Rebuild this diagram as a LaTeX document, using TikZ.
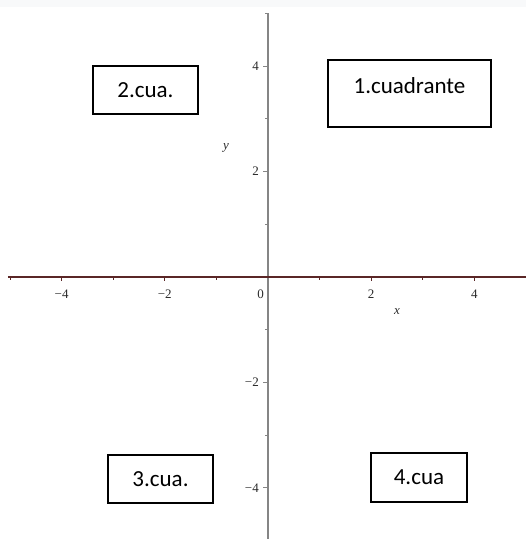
\documentclass[tikz,border=0pt]{standalone}
\usepackage{fontspec}
\setmainfont{Liberation Serif}
\newfontfamily\quadfont{Carlito}
\usetikzlibrary{positioning}
\definecolor{stripgray}{HTML}{F8F9FA}
\definecolor{yaxisgray}{HTML}{858585}
\definecolor{xaxisred}{HTML}{5A2626}
\definecolor{labelgray}{HTML}{2A2A2A}
\tikzset{
  quadbox/.style={
    draw,
    line width=1.2pt,
    inner sep=0pt,
    minimum height=48pt,
    font=\quadfont\fontsize{23}{27}\selectfont
  },
  xtick/.style={draw=xaxisred, line width=1pt},
  ytick/.style={draw=yaxisgray, line width=1pt},
  ticklabel/.style={inner sep=0pt, text=labelgray, font=\fontsize{13}{15}\selectfont},
  axislabel/.style={inner sep=0pt, text=labelgray, font=\itshape\fontsize{13}{15}\selectfont}
}

\begin{document}
\begin{tikzpicture}[x=51.6pt, y=52.7pt]
  \useasboundingbox (-5.194,-4.972) rectangle (5.0,5.256);
  \fill[stripgray] (-5.194,5.123) rectangle (5.0,5.256);

  % axes
  \coordinate (xmin) at (-5.04,0);
  \coordinate (xmax) at (5.0,0);
  \coordinate (ymin) at (0,-4.972);
  \coordinate (ymax) at (0,5.0);
  \draw[yaxisgray, line width=2pt] (ymin) -- (ymax);
  \draw[xaxisred, line width=1.2pt] (xmin) -- (xmax);

  % ticks and numbers
  \foreach \i in {-5,-3,-1,1,3}
    \draw[xtick] (\i,0) -- ++(0,-3pt);
  \foreach \i/\t/\n in {-4/−4/xm4, -2/−2/xm2, 2/2/xp2, 4/4/xp4}{
    \draw[xtick] (\i,0) -- ++(0,-4.5pt);
    \node[ticklabel] (\n) at (\i,-0.32) {\t};
  }
  \node[ticklabel] (xzero) at (-0.145,-0.32) {0};
  \foreach \j in {-3,-1,1,3,5}
    \draw[ytick] (0,\j) -- ++(-3pt,0);
  \foreach \j/\t/\n in {-4/−4/ym4, -2/−2/ym2, 2/2/yp2, 4/4/yp4}{
    \draw[ytick] (0,\j) -- ++(-5pt,0);
    \node[ticklabel, anchor=east] (\n) at (-0.174,\j) {\t};
  }
  \node[axislabel] (xname) at (2.5,-0.65) {x};
  \node[axislabel] (yname) at (-0.814,2.448) {y};

  % quadrant boxes
  \node[quadbox, minimum width=163pt, minimum height=67pt,
        text height=16pt, text depth=15pt] (quad1) at (2.742,3.482) {1.cuadrante};
  \node[quadbox, minimum width=105pt] (quad2) at (-2.374,3.548) {2.cua.};
  \node[quadbox, minimum width=105pt] (quad3) at (-2.083,-3.833) {3.cua.};
  \node[quadbox, minimum width=96pt, minimum height=49pt] (quad4) at (2.926,-3.805) {4.cua};
\end{tikzpicture}
\end{document}
